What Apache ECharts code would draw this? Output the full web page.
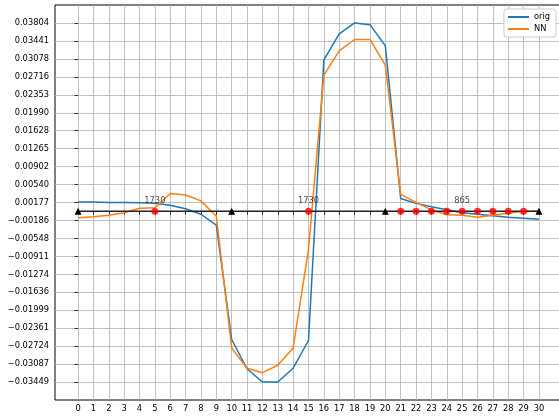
<!DOCTYPE html>
<html>
<head>
<meta charset="utf-8">
<script src="https://cdn.jsdelivr.net/npm/echarts@6/dist/echarts.min.js"></script>
<style>
html, body { margin: 0; padding: 0; background: #fff; }
#chart { width: 559px; height: 420px; }
</style>
</head>
<body>
<div id="chart"></div>
<script>
var steps = [0, 1, 2, 3, 4, 5, 6, 7, 8, 9, 10, 11, 12, 13, 14, 15, 16, 17, 18, 19, 20, 21, 22, 23, 24, 25, 26, 27, 28, 29, 30];
var orig = [0.0019, 0.0019, 0.0018, 0.0018, 0.0017, 0.0016, 0.0012, 0.0005, -0.0006, -0.0028,
    -0.0259, -0.0318, -0.03449, -0.03449, -0.0317, -0.0261, 0.0306, 0.03585, 0.03804, 0.0377,
    0.0334, 0.0026, 0.0016, 0.0009, 0.0003, -0.0003, -0.0006, -0.0009, -0.0012, -0.0014, -0.0016];
var nn = [-0.0013, -0.0011, -0.0008, -0.0003, 0.0006, 0.0007, 0.0036, 0.0033, 0.0021, -0.001,
    -0.0276, -0.0317, -0.0326, -0.0311, -0.0276, -0.0077, 0.0275, 0.0324, 0.0347, 0.0347,
    0.0295, 0.0034, 0.0018, 0.0003, -0.0007, -0.0008, -0.0012, -0.0008, -0.0004, 0.0, 0.0];
var yTickLabels = ['0.03804', '0.03441', '0.03078', '0.02716', '0.02353', '0.01990', '0.01628',
    '0.01265', '0.00902', '0.00540', '0.00177', '\u22120.00186', '\u22120.00548', '\u22120.00911',
    '\u22120.01274', '\u22120.01636', '\u22120.01999', '\u22120.02361', '\u22120.02724',
    '\u22120.03087', '\u22120.03449'];
var anchorSteps = [0, 10, 20, 30];
var anchorValues = [0, 0, 0, 0];
var redSteps = [5, 15, 21, 22, 23, 24, 25, 26, 27, 28, 29];
var redValues = [0, 0, 0, 0, 0, 0, 0, 0, 0, 0, 0];
var noteSteps = [5, 15, 25];
var noteValues = [0, 0, 0];
var noteTexts = ['1730', '1730', '865'];

var yTicks = yTickLabels.map(function (s) { return parseFloat(s.replace('\u2212', '-')); });
var yTop = Math.max.apply(null, yTicks);
var yBot = Math.min.apply(null, yTicks);
var yPad = (yTop - yBot) * 0.05;

function pairs(xs, ys) {
    return xs.map(function (x, i) { return [x, ys[i]]; });
}

var font = 'DejaVu Sans';
var dom = document.getElementById('chart');
var myChart = echarts.init(dom, null, { renderer: 'canvas' });
var option = {
    animation: false,
    backgroundColor: '#fff',
    textStyle: { fontFamily: font },
    grid: {
        left: 55, top: 5, width: 507, height: 395,
        outerBoundsMode: 'none',
        show: true, borderColor: '#000', borderWidth: 1, containLabel: false
    },
    legend: {
        data: ['orig', 'NN'],
        orient: 'vertical',
        right: 3, top: 9,
        icon: 'rect',
        itemWidth: 21, itemHeight: 2,
        itemGap: 4,
        padding: [4, 6, 4, 4],
        borderColor: '#cccccc', borderWidth: 1, borderRadius: 3,
        backgroundColor: '#fff',
        textStyle: { fontFamily: font, fontSize: 8.3, color: '#000' }
    },
    xAxis: {
        type: 'value',
        min: -1.5, max: 31.5,
        axisLine: { show: false },
        axisTick: { show: true, customValues: steps, length: 3.5, lineStyle: { color: '#000', width: 0.8 } },
        axisLabel: {
            customValues: steps, margin: 5, color: '#000', fontFamily: font, fontSize: 8.3,
            formatter: function (v) { return String(v); }
        },
        splitLine: { show: true, lineStyle: { color: '#b0b0b0', width: 0.8 } }
    },
    yAxis: {
        type: 'value',
        min: yBot - yPad, max: yTop + yPad,
        axisLine: { show: false },
        axisTick: { show: true, customValues: yTicks, length: 3.5, lineStyle: { color: '#000', width: 0.8 } },
        axisLabel: {
            customValues: yTicks, margin: 6, color: '#000', fontFamily: font, fontSize: 8.3,
            formatter: function (v) {
                var best = 0;
                for (var i = 1; i < yTicks.length; i++) {
                    if (Math.abs(yTicks[i] - v) < Math.abs(yTicks[best] - v)) best = i;
                }
                return yTickLabels[best];
            }
        },
        splitLine: { show: true, lineStyle: { color: '#b0b0b0', width: 0.8 } }
    },
    series: [
        {
            name: 'orig', type: 'line', data: pairs(steps, orig),
            symbol: 'none', color: '#1f77b4',
            lineStyle: { width: 1.5, color: '#1f77b4' }, z: 2
        },
        {
            name: 'NN', type: 'line', data: pairs(steps, nn),
            symbol: 'none', color: '#ff7f0e',
            lineStyle: { width: 1.5, color: '#ff7f0e' }, z: 3
        },
        {
            name: 'base', type: 'line', data: pairs(anchorSteps, anchorValues),
            symbol: 'triangle', symbolSize: 7, showSymbol: true,
            itemStyle: { color: '#000' },
            lineStyle: { width: 1.5, color: '#222' }, z: 4
        },
        {
            name: 'hits', type: 'scatter', data: pairs(redSteps, redValues),
            symbol: 'circle', symbolSize: 7,
            itemStyle: { color: '#ff0000' }, z: 5
        },
        {
            name: 'notes', type: 'scatter', data: pairs(noteSteps, noteValues),
            symbolSize: 1, itemStyle: { color: 'rgba(0,0,0,0)' },
            label: {
                show: true, position: 'top', distance: 6,
                fontFamily: font, fontSize: 8.3, color: '#222',
                formatter: function (p) { return noteTexts[p.dataIndex]; }
            },
            z: 6
        }
    ]
};
myChart.setOption(option, true);
</script>
</body>
</html>
